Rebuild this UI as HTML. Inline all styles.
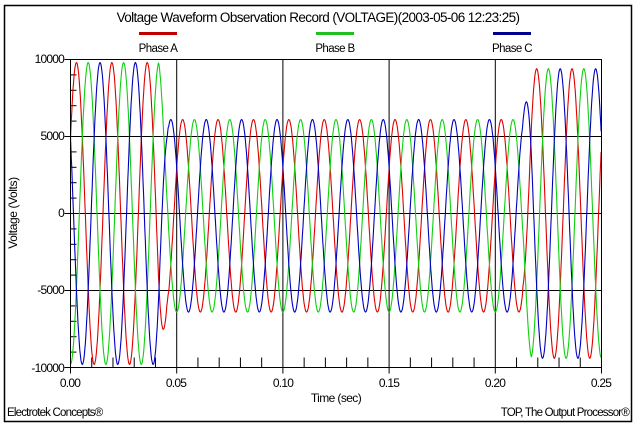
<!DOCTYPE html>
<html><head><meta charset="utf-8"><style>
body{margin:0;background:#fff;}
svg{display:block;font-family:"Liberation Sans",Arial,sans-serif;}
</style></head><body>
<svg id="s" width="637" height="430" viewBox="0 0 637 430" xmlns="http://www.w3.org/2000/svg">
<rect x="4.5" y="5.5" width="627" height="416" fill="#fff" stroke="#000" stroke-width="1.5"/>
<text x="318" y="22" font-size="13.5" text-anchor="middle" letter-spacing="-0.6">Voltage Waveform Observation Record (VOLTAGE)(2003-05-06 12:23:25)</text>
<rect x="139" y="32" width="38" height="3" fill="#c00000"/>
<rect x="316" y="32" width="38" height="3" fill="#20c020"/>
<rect x="493" y="32" width="38" height="3" fill="#000090"/>
<text x="158" y="52" font-size="11.5" text-anchor="middle" letter-spacing="-0.6">Phase A</text>
<text x="335" y="52" font-size="11.5" text-anchor="middle" letter-spacing="-0.6">Phase B</text>
<text x="512" y="52" font-size="11.5" text-anchor="middle" letter-spacing="-0.6">Phase C</text>
<g id="grid" stroke="#000" stroke-width="1"></g>
<g id="waves" fill="none" stroke-width="1.1"></g>
<rect x="70.5" y="59.5" width="531" height="308" fill="none" stroke="#000" stroke-width="1"/>
<g font-size="12" text-anchor="end" letter-spacing="-0.8">
<text x="64" y="63">10000</text><text x="64" y="140">5000</text><text x="64" y="217">0</text><text x="64" y="294">-5000</text><text x="64" y="372">-10000</text>
</g>
<g font-size="12" text-anchor="middle" letter-spacing="-0.8">
<text x="70" y="387">0.00</text><text x="176" y="387">0.05</text><text x="283" y="387">0.10</text><text x="389" y="387">0.15</text><text x="495" y="387">0.20</text><text x="601" y="387">0.25</text>
</g>
<text x="336" y="402" font-size="12" text-anchor="middle" letter-spacing="-0.6">Time (sec)</text>
<text transform="translate(17,213) rotate(-90)" font-size="12" text-anchor="middle" letter-spacing="-0.4">Voltage (Volts)</text>
<text x="7" y="416" font-size="11.5" letter-spacing="-0.8">Electrotek Concepts®</text>
<text x="629" y="416" font-size="11.5" text-anchor="end" letter-spacing="-0.8">TOP, The Output Processor®</text>
</svg>
<script>
var L=70.5,R=601.5,T=59.5,B=367.5;
function X(t){return L+(R-L)*t/0.25;}
function Y(v){return T+(B-T)*(10000-v)/20000;}
var g=document.getElementById('grid'),h='';
for(var i=1;i<5;i++){var x=X(i*0.05);h+='<line x1="'+x+'" y1="'+T+'" x2="'+x+'" y2="'+B+'"/>';}
[5000,0,-5000].forEach(function(v){var y=Y(v);h+='<line x1="'+L+'" y1="'+y+'" x2="'+R+'" y2="'+y+'"/>';});
for(var k=1;k<25;k++){if(k%5==0)continue;var x=X(k*0.01);h+='<line x1="'+x+'" y1="'+B+'" x2="'+x+'" y2="'+(B-10)+'"/>';}
for(var v=-9000;v<10000;v+=1000){if(v%5000==0)continue;var y=Y(v);h+='<line x1="'+L+'" y1="'+y+'" x2="'+(L+6)+'" y2="'+y+'"/>';}
for(var v=-10000;v<=10000;v+=5000){var y=Y(v);h+='<line x1="'+(L-6)+'" y1="'+y+'" x2="'+L+'" y2="'+y+'"/>';}
for(var i=0;i<=5;i++){var x=X(i*0.05);h+='<line x1="'+x+'" y1="'+B+'" x2="'+x+'" y2="'+(B+6)+'"/>';}
g.innerHTML=h;
function amp(t){
 if(t<0.0415)return 9800;
 if(t<0.0455)return 9800-(t-0.0415)/0.004*3550;
 if(t<0.213)return 6250;
 if(t<0.217)return 6250+(t-0.213)/0.004*3150;
 return 9400;
}
var w=2*Math.PI*60,cols=['#e00000','#10d010','#0000c0'],peaks=[0.0028,0.00833,0.0139];
var s='';
for(var p=0;p<3;p++){
 var d='';
 for(var t=0;t<=0.25;t+=0.0002){
  var v=amp(t)*Math.cos(w*(t-peaks[p]));
  if(t>0.046&&t<0.213)v-=150;
  d+=(d?'L':'M')+X(t).toFixed(1)+' '+Y(v).toFixed(1);
 }
 s+='<path d="'+d+'" stroke="'+cols[p]+'"/>';
}
document.getElementById('waves').innerHTML=s;
</script>
</body></html>
